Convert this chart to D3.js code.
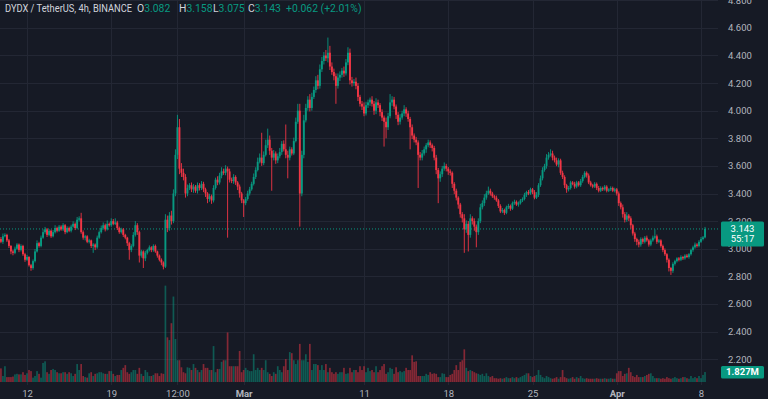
<!DOCTYPE html>
<html>
<head>
<meta charset="utf-8">
<script src="https://cdn.jsdelivr.net/npm/d3@7"></script>
<style>
html, body { margin: 0; padding: 0; background: #161a25; overflow: hidden; }
svg { display: block; font-family: Roboto, "Liberation Sans", sans-serif; }
</style>
</head>
<body>
<main></main>
<script>
// 4h closes, DYDX/USDT, Feb 9 20:00 -> Apr 8 08:00
const firstOpen = 3.07;
const closes = [
  3.05,3.09,3.10,3.06,3.02,2.98,2.97,3.00,3.03,2.99,
  3.02,2.96,2.92,2.94,2.88,2.86,2.91,2.98,3.04,3.02,
  3.08,3.12,3.14,3.10,3.13,3.09,3.12,3.15,3.13,3.16,
  3.14,3.17,3.12,3.15,3.13,3.16,3.18,3.15,3.21,3.22,
  3.12,3.08,3.09,3.05,3.06,3.02,3.03,3.01,3.08,3.12,
  3.15,3.17,3.14,3.18,3.17,3.20,3.18,3.19,3.15,3.12,
  3.14,3.10,3.08,3.04,2.99,3.02,3.10,3.17,3.12,2.95,
  2.98,2.93,2.97,2.99,3.01,2.99,3.02,2.98,2.95,2.92,
  2.90,2.87,3.21,3.15,3.24,3.20,3.40,3.68,3.88,3.58,
  3.55,3.52,3.40,3.44,3.46,3.43,3.45,3.42,3.46,3.44,
  3.47,3.43,3.40,3.36,3.38,3.35,3.44,3.50,3.48,3.53,
  3.56,3.55,3.58,3.56,3.50,3.49,3.52,3.48,3.45,3.40,
  3.35,3.33,3.36,3.40,3.43,3.47,3.52,3.57,3.63,3.66,
  3.62,3.68,3.75,3.79,3.71,3.66,3.69,3.64,3.67,3.70,
  3.76,3.72,3.68,3.66,3.72,3.69,3.78,3.92,4.00,3.40,
  3.68,3.93,4.02,4.08,4.02,4.10,4.15,4.22,4.18,4.30,
  4.36,4.40,4.38,4.42,4.32,4.28,4.25,4.18,4.24,4.26,
  4.29,4.27,4.35,4.42,4.22,4.20,4.21,4.18,4.10,4.05,
  4.03,3.98,4.04,4.06,4.08,4.05,4.00,4.06,4.04,3.99,
  3.95,3.92,3.88,3.96,4.06,4.08,4.03,3.97,3.92,3.95,
  3.98,4.01,3.98,3.94,3.88,3.82,3.79,3.77,3.68,3.66,
  3.69,3.72,3.75,3.77,3.75,3.73,3.66,3.57,3.51,3.54,
  3.58,3.60,3.58,3.56,3.55,3.47,3.42,3.37,3.32,3.25,
  3.22,3.14,3.18,3.10,3.22,3.20,3.16,3.12,3.20,3.30,
  3.33,3.37,3.40,3.42,3.40,3.38,3.37,3.35,3.31,3.27,
  3.28,3.26,3.30,3.31,3.29,3.33,3.34,3.32,3.33,3.35,
  3.36,3.39,3.41,3.40,3.43,3.41,3.37,3.39,3.46,3.51,
  3.57,3.60,3.66,3.68,3.69,3.66,3.64,3.61,3.64,3.55,
  3.52,3.46,3.43,3.44,3.48,3.47,3.45,3.48,3.46,3.49,
  3.52,3.55,3.53,3.48,3.46,3.45,3.47,3.44,3.42,3.44,
  3.43,3.45,3.42,3.43,3.44,3.42,3.43,3.40,3.33,3.30,
  3.25,3.21,3.24,3.22,3.17,3.11,3.07,3.05,3.03,3.07,
  3.05,3.08,3.06,3.03,3.06,3.08,3.09,3.05,3.06,3.02,
  2.99,2.96,2.92,2.86,2.84,2.89,2.91,2.93,2.92,2.94,
  2.93,2.95,2.94,2.96,2.99,3.01,3.03,3.02,3.05,3.07,
  3.082,3.143
];
// wick beyond the body, in thousandths
const wickUp = [
  15,20,12,8,10,6,12,15,10,8,
  12,8,10,15,6,10,12,18,20,10,
  15,20,18,10,12,8,15,20,10,12,
  10,15,8,12,10,14,18,10,20,15,
  40,12,10,8,12,6,10,8,15,12,
  18,20,12,25,10,20,15,30,12,10,
  12,10,8,6,10,12,20,30,15,10,
  12,8,15,10,14,8,12,10,6,8,
  10,8,40,30,25,35,30,40,90,60,
  40,30,20,25,15,20,18,12,20,15,
  20,15,12,10,18,12,20,15,25,20,
  30,20,25,15,20,15,20,12,10,15,
  12,10,15,20,18,15,25,20,30,30,
  180,25,40,80,30,20,25,15,20,30,
  20,25,180,30,20,15,25,30,50,50,
  30,40,30,25,40,30,25,30,40,35,
  30,25,40,110,50,30,25,20,30,25,
  20,30,25,40,30,25,20,30,20,15,
  20,30,25,20,15,25,20,30,20,15,
  20,15,30,25,60,25,20,15,20,25,
  20,30,15,20,15,20,15,20,15,20,
  25,20,15,20,15,12,15,20,15,20,
  20,25,15,12,15,10,12,15,10,12,
  15,30,25,20,30,15,20,15,20,25,
  20,25,20,30,15,12,10,15,10,12,
  15,10,12,15,10,12,15,10,12,10,
  12,15,10,15,12,10,15,20,15,20,
  20,15,25,20,30,20,15,20,15,12,
  15,12,10,15,12,10,15,12,10,15,
  15,12,10,15,12,10,12,10,15,12,
  10,12,10,8,12,10,12,10,15,12,
  20,15,25,12,15,10,12,10,15,12,
  10,12,15,10,12,15,50,12,10,8,
  10,12,8,10,8,12,10,8,10,12,
  8,10,12,8,10,12,15,10,12,15,
  10,15
];
const wickDn = [
  10,15,8,12,15,20,18,10,8,15,
  10,12,15,8,10,20,12,10,8,12,
  10,8,12,15,10,12,8,10,12,8,
  10,12,15,8,10,12,8,15,10,12,
  12,15,20,10,12,15,50,20,10,8,
  10,12,15,8,10,12,10,8,15,12,
  10,15,12,20,70,15,10,12,20,50,
  15,70,20,12,10,15,12,10,15,12,
  20,20,10,30,20,25,15,20,30,40,
  30,25,30,20,15,20,25,15,20,18,
  15,20,25,30,20,25,15,12,20,15,
  20,15,18,480,20,15,20,18,25,30,
  20,100,15,12,15,10,12,15,10,12,
  20,15,12,20,30,240,20,25,20,15,
  20,15,25,150,20,15,12,10,15,240,
  20,25,15,20,25,20,15,20,25,20,
  20,25,20,30,25,20,30,130,20,25,
  20,25,15,20,30,25,20,25,30,20,
  25,20,15,20,25,20,30,25,20,30,
  25,180,80,20,15,25,20,30,25,20,
  15,20,25,20,160,25,20,20,240,20,
  20,15,25,15,20,25,20,30,180,25,
  20,15,20,25,20,30,25,20,30,25,
  30,170,25,120,20,25,30,110,20,15,
  15,20,15,10,15,12,15,10,15,12,
  12,15,10,12,15,10,12,10,15,10,
  12,10,15,12,10,15,12,10,15,12,
  15,12,20,15,12,20,15,12,20,15,
  15,20,25,15,12,10,15,12,10,12,
  12,10,15,12,10,12,10,15,12,10,
  12,10,12,10,12,10,12,15,20,15,
  25,20,15,20,25,15,20,25,20,15,
  15,12,10,15,12,10,12,15,10,12,
  15,12,20,25,30,15,12,10,12,10,
  12,10,8,12,10,12,10,12,10,8,
  10,7
];
// volume, millions
const volumes = [
  2.5,1.1,2.9,0.9,0.9,0.9,1.0,1.4,1.5,1.4,
  1.4,1.8,1.3,1.6,2.2,2.0,0.8,1.1,2.0,1.5,
  0.8,3.5,3.8,1.8,1.5,2.2,2.4,2.2,1.8,1.6,
  1.6,1.8,1.8,1.5,1.8,1.6,1.1,1.5,3.3,2.2,
  3.3,1.1,0.9,0.8,1.6,1.8,1.1,1.5,1.6,1.8,
  1.8,1.6,1.5,1.5,2.0,2.0,1.5,1.1,1.3,1.3,
  2.2,2.6,3.1,1.8,1.5,1.8,2.2,2.2,1.5,2.6,
  1.5,1.1,2.2,1.8,1.1,1.1,1.3,1.6,1.6,1.1,
  1.6,1.5,17.7,8.2,7.7,10.8,15.7,7.9,4.0,4.0,
  2.7,1.8,1.6,2.7,2.6,2.2,3.3,2.6,2.2,1.8,
  2.2,3.3,2.6,2.6,2.2,2.2,6.6,1.8,2.4,2.4,
  3.7,4.0,4.0,9.1,2.9,2.9,2.9,2.9,2.9,5.7,
  1.8,2.2,2.6,2.2,2.0,2.0,5.1,2.2,2.6,2.2,
  2.6,2.2,4.0,1.8,1.5,1.1,1.8,1.5,2.9,2.2,
  1.8,2.9,4.2,2.2,5.5,5.3,4.0,3.3,4.0,7.0,
  4.0,4.0,5.1,3.7,7.0,2.2,3.3,3.3,3.1,2.2,
  3.1,2.2,3.3,1.8,2.6,1.8,1.5,1.8,1.5,1.8,
  1.8,2.6,1.5,1.6,2.6,1.8,2.2,2.2,1.8,2.9,
  2.2,2.9,1.8,2.6,2.0,2.2,1.8,2.9,1.8,2.2,
  2.9,3.3,1.5,1.8,2.6,2.4,1.5,2.7,1.8,2.0,
  1.8,2.0,2.6,2.2,2.2,4.9,3.7,3.8,1.1,1.1,
  1.1,1.1,1.5,1.3,1.8,1.5,1.6,1.5,0.9,0.9,
  1.6,1.5,0.9,0.9,1.3,1.5,2.2,3.1,2.2,3.7,
  4.0,6.0,2.6,2.0,2.2,2.0,1.8,1.6,1.5,1.3,
  1.5,1.1,1.6,1.1,0.9,1.1,0.7,0.7,0.6,0.7,
  0.6,0.7,0.9,0.7,0.7,0.9,0.7,0.9,0.7,0.9,
  1.1,1.3,1.6,1.6,1.1,0.9,1.1,1.3,2.2,1.3,
  0.9,0.7,1.1,0.9,0.7,0.6,0.7,0.9,0.6,0.9,
  2.2,0.9,0.7,0.6,0.7,0.9,0.6,0.9,0.7,1.1,
  0.7,0.6,0.7,0.6,0.6,0.6,0.6,0.7,0.6,0.6,
  0.6,0.7,0.6,0.6,0.7,0.6,0.6,1.6,2.0,2.0,
  1.1,1.5,1.6,2.6,1.8,1.1,0.9,1.3,0.9,0.9,
  0.9,1.1,1.3,1.5,1.6,1.1,0.7,0.7,0.7,0.6,
  0.7,0.6,0.9,0.7,0.6,0.7,0.9,0.7,0.6,0.7,
  0.9,0.9,0.7,0.6,1.1,0.7,0.9,0.7,1.1,0.7,
  1.3,1.827
];
const tickIdx = [13, 55, 88, 121, 181, 223, 265, 307, 349];
const tickText = ['12', '19', '12:00', 'Mar', '11', '18', '25', 'Apr', '8'];
const priceTicks = [2.2, 2.4, 2.6, 2.8, 3.0, 3.2, 3.4, 3.6, 3.8, 4.0, 4.2, 4.4, 4.6, 4.8];
const legendName = 'DYDX / TetherUS, 4h, BINANCE';
const legendKeys = ['O', 'H', 'L', 'C'];
const legendVals = ['3.082', '3.158', '3.075', '3.143'];
const legendChange = '+0.062 (+2.01%)';
const countdown = '55:17';

const w = 768, h = 399, plotW = 718;
const up = '#089981', down = '#f23645';
const svg = d3.select('main').append('svg').attr('width', w).attr('height', h);
svg.append('rect').attr('width', w).attr('height', h).attr('fill', '#161a25');

const x = d3.scaleLinear().domain([13, 349]).range([27, 701]);
const y = d3.scaleLinear().domain([2, 4.8]).range([386.7, 0.3]);
const vy = d3.scaleLinear().domain([0, 18]).range([382, 284]);

const candles = closes.map((c, i) => {
    const o = i ? closes[i - 1] : firstOpen;
    return { i, o, c, hi: Math.max(o, c) + wickUp[i] / 1000, lo: Math.min(o, c) - wickDn[i] / 1000, v: volumes[i] };
});
const col = d => d.c >= d.o ? up : down;

// grid
svg.append('g').selectAll('line').data(priceTicks).enter().append('line')
    .attr('x1', 0).attr('x2', plotW).attr('y1', d => Math.round(y(d)) + 0.5).attr('y2', d => Math.round(y(d)) + 0.5)
    .attr('stroke', '#232734').attr('stroke-width', 1);
svg.append('g').selectAll('line').data(tickIdx).enter().append('line')
    .attr('x1', d => Math.round(x(d)) + 0.5).attr('x2', d => Math.round(x(d)) + 0.5).attr('y1', 0).attr('y2', 385)
    .attr('stroke', '#232734').attr('stroke-width', 1);

// volume
svg.append('g').selectAll('rect').data(candles).enter().append('rect')
    .attr('x', d => x(d.i) - 0.85).attr('width', 1.7)
    .attr('y', d => vy(d.v)).attr('height', d => vy(0) - vy(d.v))
    .attr('fill', col).attr('opacity', 0.5);

// last price line
svg.append('line').attr('x1', 0).attr('x2', 720)
    .attr('y1', y(closes[closes.length - 1])).attr('y2', y(closes[closes.length - 1]))
    .attr('stroke', up).attr('stroke-dasharray', '1,2').attr('stroke-width', 1);

// candles
const cg = svg.append('g').selectAll('g').data(candles).enter().append('g');
cg.append('line')
    .attr('x1', d => x(d.i)).attr('x2', d => x(d.i))
    .attr('y1', d => y(d.hi)).attr('y2', d => y(d.lo))
    .attr('stroke', col).attr('stroke-width', 0.9);
cg.append('rect')
    .attr('x', d => x(d.i) - 0.95).attr('width', 1.9)
    .attr('y', d => y(Math.max(d.o, d.c)))
    .attr('height', d => Math.max(1, Math.abs(y(d.o) - y(d.c))))
    .attr('fill', col);

// axes
const yAxis = svg.append('g').attr('transform', 'translate(724,0)')
    .call(d3.axisRight(y).tickValues(priceTicks).tickFormat(d3.format('.3f')).tickSize(0).tickPadding(4));
const xAxis = svg.append('g').attr('transform', 'translate(0,384)')
    .call(d3.axisBottom(x).tickValues(tickIdx).tickFormat((d, i) => tickText[i]).tickSize(0).tickPadding(6));
[yAxis, xAxis].forEach(a => {
    a.select('.domain').remove();
    a.selectAll('text').attr('fill', '#b2b5be').attr('font-size', 9.5)
        .attr('font-family', 'Roboto, "Liberation Sans", sans-serif');
});
xAxis.selectAll('text').filter((d, i) => tickText[i] === 'Mar' || tickText[i] === 'Apr').attr('font-weight', 'bold');

// last price badge
const lastY = y(closes[closes.length - 1]);
svg.append('rect').attr('x', 721).attr('y', lastY - 7.5).attr('width', 43).attr('height', 25).attr('rx', 1.5).attr('fill', up);
svg.append('text').attr('x', 742.5).attr('y', lastY + 3.4).attr('text-anchor', 'middle')
    .attr('fill', '#fff').attr('font-size', 9.5).text(d3.format('.3f')(closes[closes.length - 1]));
svg.append('text').attr('x', 742.5).attr('y', lastY + 13).attr('text-anchor', 'middle')
    .attr('fill', '#fff').attr('font-size', 9.5).text(countdown);

// last volume badge
const lastV = volumes[volumes.length - 1];
svg.append('rect').attr('x', 721).attr('y', vy(lastV) - 6).attr('width', 43).attr('height', 12.5).attr('rx', 1.5).attr('fill', up);
svg.append('text').attr('x', 742.5).attr('y', vy(lastV) + 3.4).attr('text-anchor', 'middle')
    .attr('fill', '#fff').attr('font-size', 9.5).attr('font-weight', 'bold').text(d3.format('.4~s')(lastV * 1e6));

// legend
svg.append('text').attr('x', 5).attr('y', 12).attr('font-size', 10.4).attr('fill', '#d1d4dc')
    .attr('textLength', 127).attr('lengthAdjust', 'spacingAndGlyphs').text(legendName);
const keyX = [137, 179, 213, 248];
legendKeys.forEach((k, i) => {
    const t = svg.append('text').attr('x', keyX[i]).attr('y', 12).attr('font-size', 10.4);
    t.append('tspan').attr('fill', '#d1d4dc').text(k);
    t.append('tspan').attr('fill', up).text(legendVals[i]);
});
svg.append('text').attr('x', 286).attr('y', 12).attr('font-size', 10.4).attr('fill', up).text(legendChange);
</script>
</body>
</html>
